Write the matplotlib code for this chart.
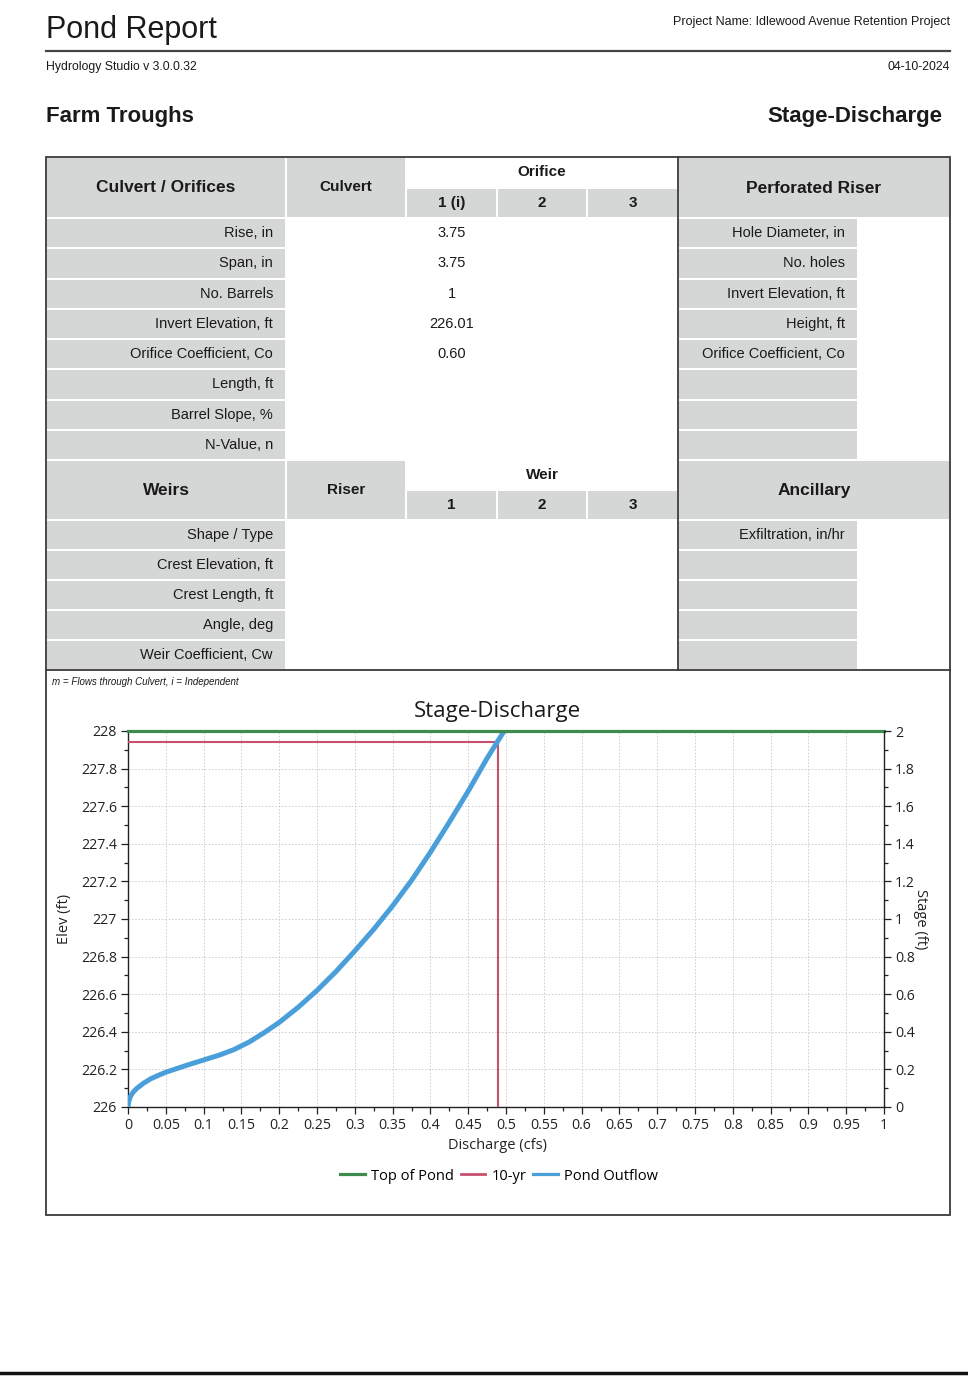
import matplotlib.pyplot as plt
from matplotlib.patches import Rectangle
from matplotlib.lines import Line2D
from matplotlib.ticker import MultipleLocator, FuncFormatter

# Stage-discharge rating for the outlet: discharge (cfs) vs water surface elevation (ft)
outflow_q = [0.000, 0.001, 0.003, 0.007, 0.012, 0.020, 0.030, 0.040, 0.050, 0.065,
             0.080, 0.100, 0.120, 0.140, 0.160, 0.180, 0.200, 0.225, 0.250, 0.275,
             0.300, 0.325, 0.350, 0.375, 0.400, 0.425, 0.450, 0.475, 0.4975]
outflow_elev = [226.000, 226.030, 226.055, 226.080, 226.100, 226.125, 226.150, 226.168, 226.185, 226.205,
                226.225, 226.250, 226.275, 226.305, 226.345, 226.395, 226.450, 226.530, 226.620, 226.720,
                226.830, 226.945, 227.070, 227.205, 227.355, 227.515, 227.680, 227.855, 228.000]

top_of_pond = 228.0
peak_10yr_q = 0.49
peak_10yr_elev = 227.94
bottom_elev = 226.0

# Outlet structure table
culvert_labels = ["Rise, in", "Span, in", "No. Barrels", "Invert Elevation, ft",
                  "Orifice Coefficient, Co", "Length, ft", "Barrel Slope, %", "N-Value, n"]
orifice1_values = ["3.75", "3.75", "1", "226.01", "0.60", "", "", ""]
riser_labels = ["Hole Diameter, in", "No. holes", "Invert Elevation, ft", "Height, ft",
                "Orifice Coefficient, Co", "", "", ""]
weir_labels = ["Shape / Type", "Crest Elevation, ft", "Crest Length, ft", "Angle, deg",
               "Weir Coefficient, Cw"]
ancillary_labels = ["Exfiltration, in/hr", "", "", "", ""]
orifice_cols = ["1 (i)", "2", "3"]
weir_cols = ["1", "2", "3"]

W, H = 968, 1382
GRAY = "#d5d7d7"
EDGE = "#3a3a3a"
TXT = "#1a1a1a"
TABLE_FONT = ["Liberation Sans", "DejaVu Sans"]
HEAD_FONT = ["Liberation Sans Narrow", "Liberation Sans", "DejaVu Sans"]

plt.rcParams["font.family"] = ["Open Sans", "DejaVu Sans"]

fig = plt.figure(figsize=(W / 100, H / 100), dpi=100)

# page layer in pixel coordinates
page = fig.add_axes([0, 0, 1, 1])
page.set_xlim(0, W)
page.set_ylim(H, 0)
page.axis("off")


def cell(x0, y0, x1, y1):
    page.add_patch(Rectangle((x0 + 1, y0 + 1), x1 - x0 - 2, y1 - y0 - 2,
                             facecolor=GRAY, edgecolor="none", zorder=1))


def txt(x, y, s, ha="center", size=10.5, weight="normal", family=TABLE_FONT, **kw):
    page.text(x, y, s, ha=ha, va="center", fontsize=size, fontweight=weight,
              family=family, color=TXT, zorder=3, **kw)


# header
txt(46, 30, "Pond Report", ha="left", size=22, family=HEAD_FONT)
txt(950, 22, "Project Name: Idlewood Avenue Retention Project", ha="right", size=9, family=HEAD_FONT)
page.plot([46, 950], [51, 51], color="#444444", lw=1.6, zorder=2)
txt(46, 67, "Hydrology Studio v 3.0.0.32", ha="left", size=8.8, family=HEAD_FONT)
txt(950, 67, "04-10-2024", ha="right", size=8.8, family=HEAD_FONT)
txt(46, 116, "Farm Troughs", ha="left", size=16, weight="bold")
txt(942, 116, "Stage-Discharge", ha="right", size=16, weight="bold")

# column and row edges
L, c1, c2, c3, c4, c5, c6, R = 46, 286, 406, 497, 587, 678, 858, 950
top, sub1, body1 = 157, 188, 218
row_h1 = (460 - body1) / len(culvert_labels)
w_top, sub2, body2 = 460, 490, 520
row_h2 = (670 - body2) / len(weir_labels)
col_centers = [(c2 + c3) / 2, (c3 + c4) / 2, (c4 + c5) / 2]

# culvert / orifice block
cell(L, top, c1, body1)
cell(c1, top, c2, body1)
for a, b in [(c2, c3), (c3, c4), (c4, c5)]:
    cell(a, sub1, b, body1)
cell(c5, top, R, body1)
txt((L + c1) / 2, 187, "Culvert / Orifices", size=12.5, weight="bold")
txt((c1 + c2) / 2, 187, "Culvert", size=11, weight="bold")
txt((c2 + c5) / 2, 172, "Orifice", size=11, weight="bold")
for x, s in zip(col_centers, orifice_cols):
    txt(x, 203, s, size=11, weight="bold")
txt((c5 + R) / 2, 188, "Perforated Riser", size=12.5, weight="bold")

for i, (lab, val, rlab) in enumerate(zip(culvert_labels, orifice1_values, riser_labels)):
    y0 = body1 + i * row_h1
    cell(L, y0, c1, y0 + row_h1)
    cell(c5, y0, c6, y0 + row_h1)
    yc = y0 + row_h1 / 2
    txt(c1 - 13, yc, lab, ha="right")
    txt(col_centers[0], yc, val)
    if rlab:
        txt(c6 - 13, yc, rlab, ha="right")

# weir block
cell(L, w_top, c1, body2)
cell(c1, w_top, c2, body2)
for a, b in [(c2, c3), (c3, c4), (c4, c5)]:
    cell(a, sub2, b, body2)
cell(c5, w_top, R, body2)
txt((L + c1) / 2, 490, "Weirs", size=12.5, weight="bold")
txt((c1 + c2) / 2, 490, "Riser", size=11, weight="bold")
txt((c2 + c5) / 2, 475, "Weir", size=11, weight="bold")
for x, s in zip(col_centers, weir_cols):
    txt(x, 505, s, size=11, weight="bold")
txt((c5 + R) / 2, 490, "Ancillary", size=12.5, weight="bold")

for i, (lab, alab) in enumerate(zip(weir_labels, ancillary_labels)):
    y0 = body2 + i * row_h2
    cell(L, y0, c1, y0 + row_h2)
    cell(c5, y0, c6, y0 + row_h2)
    yc = y0 + row_h2 / 2
    txt(c1 - 13, yc, lab, ha="right")
    if alab:
        txt(c6 - 13, yc, alab, ha="right")

# frames
page.add_patch(Rectangle((L, top), R - L, 1215 - top, facecolor="none",
                         edgecolor=EDGE, lw=1.3, zorder=4))
page.plot([L, R], [670, 670], color=EDGE, lw=1.3, zorder=4)
page.plot([c5, c5], [top, 670], color=EDGE, lw=1.3, zorder=4)
txt(52, 682, "m = Flows through Culvert, i = Independent", ha="left", size=7,
    style="italic")
page.plot([0, W], [1373, 1373], color="#111111", lw=2.5, zorder=4)

# stage-discharge chart
ax = fig.add_axes([128 / W, 1 - 1107 / H, 756 / W, 376 / H])
ax.set_facecolor("none")
ax.set_xlim(0, 1)
ax.set_ylim(bottom_elev, top_of_pond)
ax2 = ax.twinx()
ax2.set_ylim(0, top_of_pond - bottom_elev)

fmt = FuncFormatter(lambda v, p: f"{v:g}")
ax.xaxis.set_major_locator(MultipleLocator(0.05))
ax.xaxis.set_minor_locator(MultipleLocator(0.025))
ax.yaxis.set_major_locator(MultipleLocator(0.2))
ax.yaxis.set_minor_locator(MultipleLocator(0.1))
ax2.yaxis.set_major_locator(MultipleLocator(0.2))
ax2.yaxis.set_minor_locator(MultipleLocator(0.1))
for a in (ax.xaxis, ax.yaxis, ax2.yaxis):
    a.set_major_formatter(fmt)

for a in (ax, ax2):
    a.tick_params(which="major", direction="out", length=5, width=0.9,
                  labelsize=10.2, colors="#222222", pad=3)
    a.tick_params(which="minor", direction="out", length=3, width=0.9, colors="#222222")
    for s in a.spines.values():
        s.set_color("#222222")
        s.set_linewidth(1.0)
ax.spines["top"].set_visible(False)
ax.spines["right"].set_visible(False)
for s in ("top", "left", "bottom"):
    ax2.spines[s].set_visible(False)

ax.grid(True, which="major", color="#cacaca", lw=0.6, ls=(0, (2, 2)))
ax.set_axisbelow(True)

ax.plot([0, peak_10yr_q, peak_10yr_q], [peak_10yr_elev, peak_10yr_elev, bottom_elev],
        color="#c8506c", lw=1.5, zorder=3)
ax.plot(outflow_q, outflow_elev, color="#4a9fda", lw=3.6, solid_capstyle="butt",
        solid_joinstyle="round", zorder=4)
ax.axhline(top_of_pond, color="#3f8a4e", lw=2.3, clip_on=False, zorder=5)

ax.set_xlabel("Discharge (cfs)", fontsize=10.5, color="#222222")
ax.xaxis.set_label_coords((497 - 128) / 756, -(1138 - 1107) / 376)
ax.set_ylabel("Elev (ft)", fontsize=10.5, color="#222222")
ax.yaxis.set_label_coords(-(128 - 72) / 756, 0.5)
ax2.set_ylabel("Stage (ft)", fontsize=10.5, color="#222222", rotation=-90)
ax2.yaxis.set_label_coords((928 - 128) / 756, 0.5)
ax.text((497 - 128) / 756, 1 + (731 - 711) / 376, "Stage-Discharge", transform=ax.transAxes,
        ha="center", va="center", fontsize=16, color="#1a1a1a")

handles = [Line2D([], [], color="#3f8a4e", lw=2.3),
           Line2D([], [], color="#c8506c", lw=2.0),
           Line2D([], [], color="#4a9fda", lw=2.3)]
fig.legend(handles, ["Top of Pond", "10-yr", "Pond Outflow"], loc="center",
           bbox_to_anchor=(499 / W, 1 - 1176 / H), ncol=3, frameon=False,
           fontsize=10.5, handlelength=1.7, handletextpad=0.4, columnspacing=0.5)

fig.savefig("out.png", dpi=100)
